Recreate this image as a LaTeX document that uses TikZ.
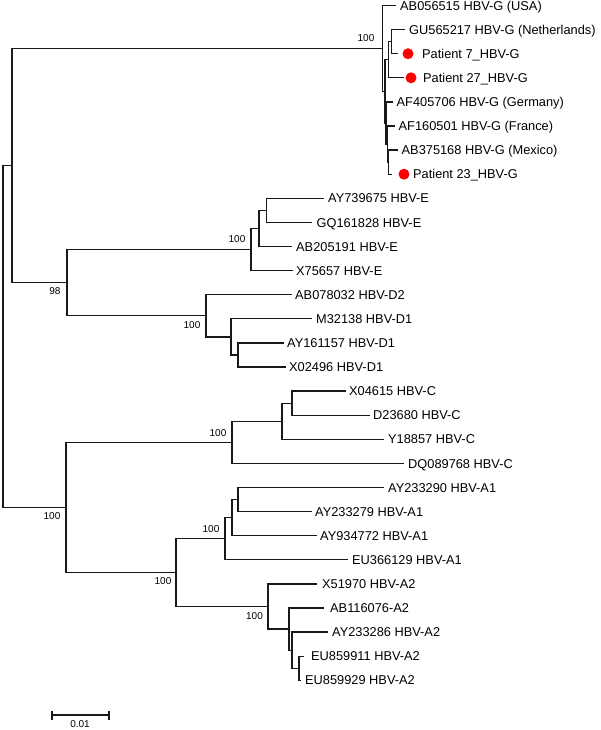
\documentclass[tikz,border=0pt]{standalone}
\usepackage{fontspec}
\setmainfont{Liberation Sans}
\newcommand\tleaf[5]{%
  \coordinate (t#1) at (#3,#2);
  \node[leaflab] (l#1) at (#4,#2) {#5};}
\begin{document}
\begin{tikzpicture}[x=1pt,y=-1pt,
  br/.style={line width=1.25pt,line cap=rect,black!90},
  leaflab/.style={anchor=west,inner sep=0pt,text height=9.2pt,text depth=0pt,font=\fontsize{12.8}{14}\selectfont},
  bs/.style={inner sep=0pt,text height=7.2pt,text depth=0pt,font=\fontsize{10}{12}\selectfont},
  rdot/.style={circle,fill=red,draw=none,minimum size=11pt,inner sep=0pt}]
\useasboundingbox[fill=white] (0,0) rectangle (600,730);
% leaves
\tleaf{0}{5.5}{395}{400}{AB056515 HBV-G (USA)}
\tleaf{1}{29.6}{404}{409}{GU565217 HBV-G (Netherlands)}
\tleaf{2}{53.7}{397}{422}{Patient 7\_HBV-G}
\tleaf{3}{77.8}{403}{423}{Patient 27\_HBV-G}
\tleaf{4}{101.9}{392}{396.5}{AF405706 HBV-G (Germany)}
\tleaf{5}{126}{394}{398.5}{AF160501 HBV-G (France)}
\tleaf{6}{150.1}{397}{401.5}{AB375168 HBV-G (Mexico)}
\tleaf{7}{174.2}{391}{413}{Patient 23\_HBV-G}
\tleaf{8}{198.3}{323}{328}{AY739675 HBV-E}
\tleaf{9}{222.4}{311}{316.5}{GQ161828 HBV-E}
\tleaf{10}{246.5}{291}{296}{AB205191 HBV-E}
\tleaf{11}{270.6}{292}{296}{X75657 HBV-E}
\tleaf{12}{294.7}{291}{295}{AB078032 HBV-D2}
\tleaf{13}{318.8}{311}{316}{M32138 HBV-D1}
\tleaf{14}{342.9}{283}{287}{AY161157 HBV-D1}
\tleaf{15}{367}{285}{289}{X02496 HBV-D1}
\tleaf{16}{391.1}{345}{349}{X04615 HBV-C}
\tleaf{17}{415.2}{369}{373}{D23680 HBV-C}
\tleaf{18}{439.3}{383}{388}{Y18857 HBV-C}
\tleaf{19}{463.4}{403}{408}{DQ089768 HBV-C}
\tleaf{20}{487.5}{383}{388}{AY233290 HBV-A1}
\tleaf{21}{511.6}{311}{315}{AY233279 HBV-A1}
\tleaf{22}{535.7}{316}{320}{AY934772 HBV-A1}
\tleaf{23}{559.8}{347}{352}{EU366129 HBV-A1}
\tleaf{24}{583.9}{316}{322}{X51970 HBV-A2}
\tleaf{25}{608}{323}{330}{AB116076-A2}
\tleaf{26}{632.1}{327}{332}{AY233286 HBV-A2}
\tleaf{27}{656.2}{303}{311}{EU859911 HBV-A2}
\tleaf{28}{680.3}{300}{305}{EU859929 HBV-A2}
% patient dots
\node[rdot] (d2) at (408,53.7) {};
\node[rdot] (d3) at (411,77.8) {};
\node[rdot] (d7) at (404,174.2) {};
% internal nodes
\coordinate (root) at (3,336.5);
\coordinate (top) at (12,165.5);
\coordinate (G) at (382.3,48.4);
\coordinate (nA) at (385,91.35);
\coordinate (nB) at (388.3,59.7);
\coordinate (nC) at (391.7,41.65);
\coordinate (nD) at (386,123);
\coordinate (nD2) at (387.5,144.1);
\coordinate (nD3) at (388.5,162.15);
\coordinate (ED) at (67,282.65);
\coordinate (E) at (251,249.5);
\coordinate (E1) at (259,228.4);
\coordinate (E2) at (266.7,210.35);
\coordinate (D) at (206,315.8);
\coordinate (D1) at (231,336.9);
\coordinate (D1b) at (238,354.95);
\coordinate (CA) at (66,507.45);
\coordinate (C) at (232,442.3);
\coordinate (C1) at (282,421.2);
\coordinate (C2) at (292,403.15);
\coordinate (A) at (176,572.6);
\coordinate (A1) at (225,538.7);
\coordinate (A1a) at (232,517.6);
\coordinate (A1b) at (238,499.55);
\coordinate (A2) at (268,606.5);
\coordinate (A2a) at (289,629.1);
\coordinate (A2b) at (292,650.2);
\coordinate (A2c) at (299,668.25);
% branches
\draw[br] (root) |- (top); \draw[br] (root) |- (CA);
\draw[br] (top) |- (G); \draw[br] (top) |- (ED);
\draw[br] (G) |- (t0); \draw[br] (G) |- (nA);
\draw[br] (nA) |- (nB); \draw[br] (nA) |- (nD);
\draw[br] (nB) |- (nC); \draw[br] (nB) |- (t3);
\draw[br] (nC) |- (t1); \draw[br] (nC) |- (t2);
\draw[br] (nD) |- (t4); \draw[br] (nD) |- (nD2);
\draw[br] (nD2) |- (t5); \draw[br] (nD2) |- (nD3);
\draw[br] (nD3) |- (t6); \draw[br] (nD3) |- (t7);
\draw[br] (ED) |- (E); \draw[br] (ED) |- (D);
\draw[br] (E) |- (E1); \draw[br] (E) |- (t11);
\draw[br] (E1) |- (E2); \draw[br] (E1) |- (t10);
\draw[br] (E2) |- (t8); \draw[br] (E2) |- (t9);
\draw[br] (D) |- (t12); \draw[br] (D) |- (D1);
\draw[br] (D1) |- (t13); \draw[br] (D1) |- (D1b);
\draw[br] (D1b) |- (t14); \draw[br] (D1b) |- (t15);
\draw[br] (CA) |- (C); \draw[br] (CA) |- (A);
\draw[br] (C) |- (C1); \draw[br] (C) |- (t19);
\draw[br] (C1) |- (C2); \draw[br] (C1) |- (t18);
\draw[br] (C2) |- (t16); \draw[br] (C2) |- (t17);
\draw[br] (A) |- (A1); \draw[br] (A) |- (A2);
\draw[br] (A1) |- (A1a); \draw[br] (A1) |- (t23);
\draw[br] (A1a) |- (A1b); \draw[br] (A1a) |- (t22);
\draw[br] (A1b) |- (t20); \draw[br] (A1b) |- (t21);
\draw[br] (A2) |- (t24); \draw[br] (A2) |- (A2a);
\draw[br] (A2a) |- (t25); \draw[br] (A2a) |- (A2b);
\draw[br] (A2b) |- (t26); \draw[br] (A2b) |- (A2c);
\draw[br] (A2c) |- (t27); \draw[br] (A2c) |- (t28);
% bootstrap values
\node[bs] (bG) at (366,38) {100};
\node[bs] (bED) at (55,290.7) {98};
\node[bs] (bE) at (237,239) {100};
\node[bs] (bD) at (192,325) {100};
\node[bs] (bC) at (218,432.7) {100};
\node[bs] (bCA) at (52,516) {100};
\node[bs] (bA1) at (211,529.3) {100};
\node[bs] (bA) at (163,581.3) {100};
\node[bs] (bA2) at (254.5,616) {100};
% scale bar
\coordinate (s1) at (52,715);
\coordinate (s2) at (109,715);
\draw[br,line cap=butt] (s1) -- (s2);
\draw[br,line cap=butt] (52,710.5) -- (52,719.5);
\draw[br,line cap=butt] (109,710.5) -- (109,719.5);
\node[bs] (sl) at (80,723.5) {0.01};
\end{tikzpicture}
\end{document}
